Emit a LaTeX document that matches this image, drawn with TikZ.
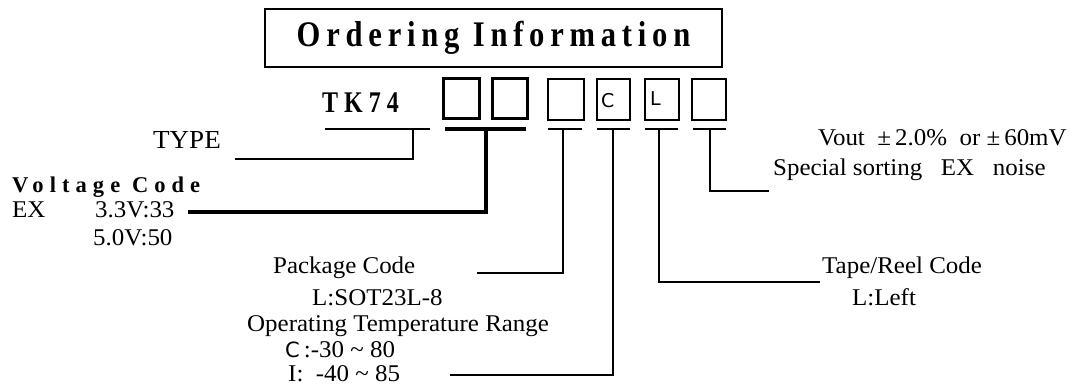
\documentclass[tikz,border=0pt]{standalone}
\usepackage{fontspec}
\setmainfont[FakeStretch=1.04]{Liberation Serif}
\setsansfont{DejaVu Sans}
\newfontfamily\titlefont[LetterSpace=16,FakeStretch=0.85]{Liberation Serif}
\newfontfamily\tkfont[LetterSpace=20,FakeStretch=0.8]{Liberation Serif}
\newfontfamily\vcfont[LetterSpace=27]{Liberation Serif}
\begin{document}
\begin{tikzpicture}[x=1pt,y=-1pt,
  thinline/.style={line width=1.5pt},
  thickline/.style={line width=4pt},
  cellbox/.style={draw, line width=1.5pt, minimum width=#1, minimum height=41pt, inner sep=0pt},
  boldcell/.style={draw, line width=3pt, minimum width=#1, minimum height=40pt, inner sep=0pt},
  lbl/.style={anchor=base west, inner sep=0pt, font=\fontsize{24}{28}\selectfont},
  celltext/.style={anchor=base west, inner sep=0pt, font=\sffamily\fontsize{19}{23}\selectfont}]
\useasboundingbox (0,0) rectangle (1071,390);

% title
\node[draw, line width=1.8pt, minimum width=457pt, minimum height=58pt, inner sep=0pt,
  font=\titlefont\bfseries\fontsize{36}{40}\selectfont] (title) at (493.5,38) {Ordering Information};

% code cells
\node[anchor=base west, inner sep=0pt, font=\tkfont\bfseries\fontsize{30}{34}\selectfont] (tk) at (322,113) {TK74};
\node[boldcell=36pt] (b1) at (461.5,99) {};
\node[boldcell=35pt] (b2) at (510,99) {};
\node[cellbox=36pt] (b3) at (566,99.5) {};
\node[cellbox=33pt] (b4) at (613.5,99.5) {};
\node[cellbox=34pt] (b5) at (662,99.5) {};
\node[cellbox=34pt] (b6) at (709,99.5) {};
\node[celltext] (cC) at (601,108) {C};
\node[celltext] (cL) at (650,106) {L};

% underlines
\coordinate (tkL) at (325,129); \coordinate (tkR) at (430,129); \coordinate (tkM) at (413,129);
\coordinate (vL) at (445,129); \coordinate (vR) at (526,129); \coordinate (vM) at (486,129);
\coordinate (pL) at (548,129); \coordinate (pR) at (582,129); \coordinate (pM) at (563,129);
\coordinate (oL) at (597,129); \coordinate (oR) at (630,129); \coordinate (oM) at (613,129);
\coordinate (rL) at (645,129); \coordinate (rR) at (678,129); \coordinate (rM) at (659,129);
\coordinate (sL) at (693,129); \coordinate (sR) at (726,129); \coordinate (sM) at (710,129);
\draw[thinline] (tkL) -- (tkR);
\draw[thickline] (vL) -- (vR);
\draw[thinline] (pL) -- (pR);
\draw[thinline] (oL) -- (oR);
\draw[thinline] (rL) -- (rR);
\draw[thinline] (sL) -- (sR);

% labels
\node[lbl, font=\fontsize{26}{30}\selectfont] (type) at (153,149) {TYPE};
\node[anchor=base west, inner sep=0pt, font=\vcfont\bfseries\fontsize{22.5}{27}\selectfont] (vc) at (12,193) {Voltage Code};
\node[lbl] (ex) at (12,218) {EX};
\node[lbl] (v33) at (95,218) {3.3V:33};
\node[lbl] (v50) at (93,245) {5.0V:50};
\node[lbl] (pkg) at (273,273) {Package Code};
\node[lbl] (sot) at (312,305) {L:SOT23L-8};
\node[lbl] (otr) at (247,331) {Operating Temperature Range};
\node[lbl] (tc) at (285,357) {{\sffamily\fontsize{21}{24}\selectfont C}\,:-30 \textasciitilde{} 80};
\node[lbl] (ti) at (288,381) {I:\ \ -40 \textasciitilde{} 85};
\node[lbl] (tape) at (822,273) {Tape/Reel Code};
\node[lbl] (left) at (852,305) {L:Left};
\node[lbl] (vout) at (818,146) {Vout \ ±\,2.0\% \ or ±\,60mV};
\node[lbl] (spec) at (773,176) {Special sorting \ \ EX \ \ noise};

% connector ends
\coordinate (typeE) at (235,159);
\coordinate (vcE) at (188,212);
\coordinate (pkgE) at (477,273);
\coordinate (otrE) at (450,375);
\coordinate (tapeE) at (820,282);
\coordinate (specE) at (769,191);

% connectors
\draw[thinline] (tkM) |- (typeE);
\draw[line width=3.5pt] (vM) |- (vcE);
\draw[thinline] (pM) |- (pkgE);
\draw[thinline] (oM) |- (otrE);
\draw[thinline] (rM) |- (tapeE);
\draw[thinline] (sM) |- (specE);
\end{tikzpicture}
\end{document}
